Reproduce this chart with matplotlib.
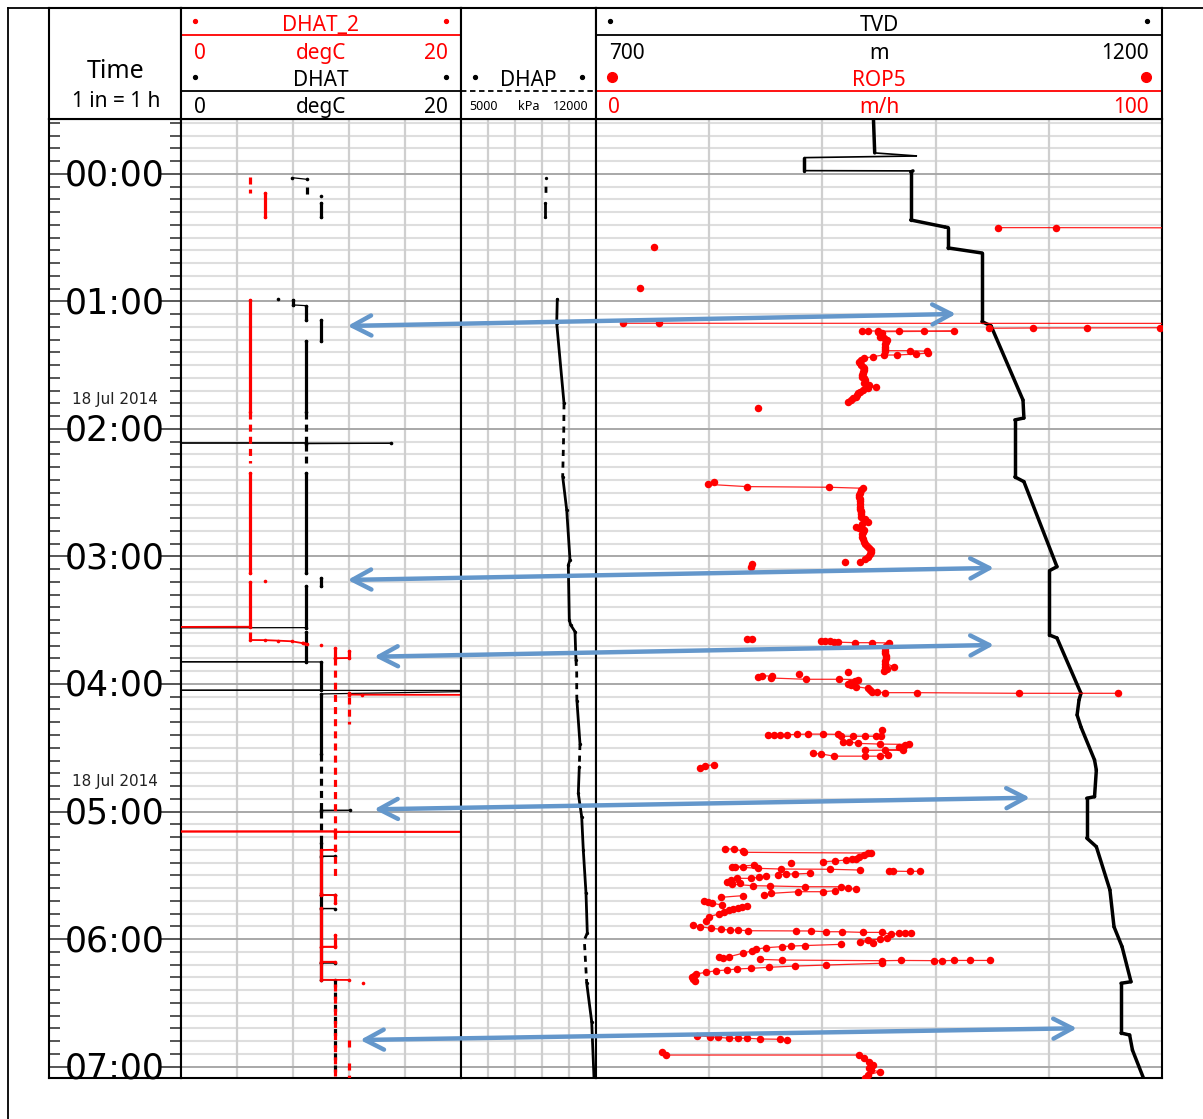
import numpy as np
import matplotlib
matplotlib.use("Agg")
import matplotlib.pyplot as plt
from matplotlib.lines import Line2D
from matplotlib.patches import ConnectionPatch
from matplotlib.collections import LineCollection
from matplotlib.transforms import blended_transform_factory, offset_copy

nan = np.nan

# ---------------- time index (hours after 18 Jul 2014 00:00) ----------------
HOUR_TICKS = [0, 1, 2, 3, 4, 5, 6, 7]
HOUR_LABELS = ["00:00", "01:00", "02:00", "03:00", "04:00", "05:00", "06:00", "07:00"]
DATE_TEXT = "18 Jul 2014"
DATE_TIMES = [1.75, 4.75]
TIME_TOP, TIME_BOTTOM = -0.431, 7.09

# ---------------- curve scales ----------------
DHAT_SCALE = (0, 20)
DHAP_SCALE = (5000, 12000)
TVD_SCALE = (700, 1200)
ROP_SCALE = (0, 100)

# ---------------- DHAT (black, degC) ----------------
dhat_t = [0.029, 0.042, nan, 0.170, nan, 0.227, 0.337, nan, 0.980, nan,
          0.988, 1.027, 1.033, 1.145, nan, 1.145, 1.307, nan, 1.307, 1.864, nan,
          2.108, 2.110, 2.112, 2.115, nan, 2.347, 3.132, nan, 3.166, 3.231, nan,
          3.231, 3.558, 3.560, nan,
          3.590, 3.825, 3.826, 3.827, 4.047, 4.049, 4.051, 4.078, 4.550, nan,
          4.990, 4.991, 4.993, nan,
          5.250, 5.350, 5.351, 5.353, 5.655, 5.656, 5.657, 5.760, 5.761, 5.762,
          6.186, 6.187, 6.188, 6.320, 6.322]
dhat_v = [7.93, 9.00, nan, 10.0, nan, 10.0, 10.0, nan, 6.95, nan,
          7.98, 7.98, 8.96, 8.96, nan, 9.98, 9.98, nan, 8.96, 8.96, nan,
          8.96, -2.0, 15.0, 8.96, nan, 8.96, 8.96, nan, 10.0, 10.0, nan,
          8.96, 8.96, -2.0, nan,
          8.96, 8.96, -2.0, 10.0, 10.0, -2.0, 25.0, 10.0, 10.0, nan,
          10.0, 12.1, 10.0, nan,
          10.0, 10.0, 11.0, 10.0, 10.0, 11.0, 10.0, 10.0, 11.0, 10.0,
          10.0, 11.0, 10.0, 10.0, 11.0]
dhat_dash_t0 = [0.100, 1.864, 2.115, 4.550, 4.993, 6.322]
dhat_dash_t1 = [0.165, 2.108, 2.268, 4.990, 5.250, 7.090]
dhat_dash_v = [9.00, 8.96, 8.96, 10.0, 10.0, 11.0]

# ---------------- DHAT_2 (red, degC) ----------------
dhat2_t = [0.147, 0.337, nan, 0.988, 1.864, nan, 2.347, 3.132, nan, 3.190, nan,
           3.198, 3.551, 3.553, nan,
           3.655, 3.656, 3.660, 3.665, 3.680, 3.690, nan, 3.694, nan,
           3.720, 3.800, nan, 3.745, 3.796, 3.798, nan,
           4.070, 4.083, 4.084, 4.086, nan,
           5.155, 5.157, 5.159, 5.161, nan,
           5.300, 5.302, 5.640, 5.655, 5.656, 5.720, nan,
           5.760, 6.060, 6.061, 6.062, 6.178, 6.179, 6.180, 6.320, 6.321, nan,
           5.970, 6.055, nan, 6.347]
dhat2_v = [6.00, 6.00, nan, 4.93, 4.93, nan, 4.93, 4.93, nan, 6.00, nan,
           4.93, 4.93, -2.0, nan,
           4.93, 6.00, 6.90, 7.90, 8.70, 9.00, nan, 10.0, nan,
           11.0, 11.0, nan, 12.0, 12.0, 11.0, nan,
           12.0, 12.0, 12.9, 25.0, nan,
           11.0, -2.0, 25.0, 11.0, nan,
           11.0, 10.0, 10.0, 10.0, 11.0, 11.0, nan,
           10.0, 10.0, 11.0, 10.0, 10.0, 11.0, 10.0, 10.0, 12.0, nan,
           11.0, 11.0, nan, 13.0]
dhat2_dash_t0 = [0.021, 1.864, 3.590, 3.800, 5.161, 4.100, 6.350, 6.790, 6.970]
dhat2_dash_t1 = [0.147, 2.268, 3.655, 5.155, 5.510, 4.310, 7.090, 6.850, 7.090]
dhat2_dash_v = [4.93, 4.93, 4.93, 11.0, 11.0, 12.0, 11.0, 12.0, 12.0]

# ---------------- DHAP (black, kPa) ----------------
dhap_t = [0.029, nan, 0.227, 0.337, nan, 0.983, 1.171, 1.798, nan,
          2.374, 2.635, 3.027, 3.067, 3.498, 3.537, 3.590, 3.810, nan,
          4.130, 4.470, nan,
          4.650, 4.858, 5.041, 5.302, 5.639, 5.953, nan,
          6.345, 6.649, 7.090]
dhap_v = [9407, nan, 9371, 9371, nan, 9993, 9962, 10341, nan,
          10273, 10481, 10652, 10564, 10616, 10688, 10911, 10960, nan,
          11010, 11170, nan,
          11134, 11082, 11258, 11341, 11481, 11549, nan,
          11518, 11777, 11896]
dhap_dash_t = [0.100, 0.165, nan, 1.798, 2.000, 2.374, nan,
               3.810, 3.916, 4.071, 4.130, nan, 4.470, 4.650, nan,
               5.953, 6.008, 6.345]
dhap_dash_v = [9407, 9407, nan, 10341, 10330, 10273, nan,
               10960, 11000, 11000, 11010, nan, 11170, 11134, nan,
               11549, 11393, 11518]

# ---------------- TVD (black, m) ----------------
tvd_t = [-0.431, -0.165, -0.141, -0.128, -0.026, -0.024, -0.016, 0.361, 0.416, 0.420,
         0.580, 0.620, 1.158, 1.192, 1.773, 1.914, 1.929, 2.376, 2.413, 3.080,
         3.111, 3.616, 3.639, 4.073, 4.125, 4.243, 4.337, 4.596, 4.675, 4.884,
         4.896, 5.208, 5.276, 5.616, 5.904, 6.060, 6.335, 6.347, 6.737, 6.753,
         6.871, 7.090]
tvd_v = [945.1, 946.2, 983.6, 884.0, 884.0, 980.0, 978.0, 978.0, 1008.3, 1011.0,
         1011.0, 1041.0, 1041.0, 1049.0, 1077.2, 1078.0, 1070.0, 1070.0, 1078.0, 1107.2,
         1100.6, 1100.6, 1107.2, 1128.4, 1126.7, 1125.0, 1128.4, 1140.4, 1142.0, 1140.4,
         1133.5, 1133.5, 1142.0, 1154.0, 1157.6, 1164.7, 1172.6, 1163.8, 1163.8, 1171.4,
         1173.9, 1183.6]

# ---------------- ROP5 (red, m/h) ----------------
rop_t = [0.421, 0.421, 0.423, nan, 0.575, nan, 0.897, nan,
         1.171, 1.171, 1.172, nan, 1.205, 1.206, 1.207, 1.208, 1.210, nan,
         1.231, 1.231, 1.232, 1.232, 1.233, 1.233,
         1.237, 1.250, 1.263, 1.276, 1.290, 1.302, 1.318, 1.334, 1.354, 1.370,
         1.386, 1.386, 1.390, 1.405, 1.412, 1.420, 1.420, 1.432, 1.446, 1.460,
         1.472, 1.485, 1.500, 1.512, 1.525, 1.537, 1.550, 1.563, 1.577, 1.590,
         1.603, 1.616, 1.629, 1.642, 1.655, 1.668, 1.681, 1.694, 1.707, 1.720,
         1.734, 1.747, 1.760, 1.773, 1.786, nan,
         1.833, nan,
         2.418, 2.434, 2.452, 2.457, 2.465, 2.480, 2.500, 2.515, 2.531, 2.548,
         2.565, 2.585, 2.609, 2.625, 2.640, 2.655, 2.670, 2.688, 2.705, 2.727,
         2.745, 2.766, 2.780, 2.792, 2.808, 2.822, 2.845, 2.865, 2.884, 2.900,
         2.918, 2.936, 2.950, 2.962, 2.980, 3.002, 3.020, 3.041, nan,
         3.041, nan, 3.060, 3.080, nan, 3.650, 3.650, nan,
         3.660, 3.662, 3.665, 3.668, 3.672, 3.676, 3.676, 3.678, 3.700, 3.720,
         3.740, 3.760, 3.780, 3.800, 3.820, 3.840, 3.864, 3.870, 3.885, 3.896, nan,
         3.908, nan, 3.920, nan,
         3.947, 3.937, 3.937, 3.953, 3.963, 3.963, 3.965, 3.975, 3.990, 4.000,
         4.008, 4.021, 4.034, 4.048, 4.060, 4.065, 4.068, 4.068, 4.073, 4.073, nan,
         4.400, 4.400, 4.398, 4.398, 4.395, 4.393, 4.393, 4.395, 4.410, 4.410,
         4.410, 4.410, 4.410, nan,
         4.361, nan,
         4.453, 4.453, 4.466, 4.471, 4.474, 4.479, 4.492, nan,
         4.518, 4.518, 4.520, nan,
         4.545, 4.548, 4.566, 4.566, 4.566, 4.558, nan,
         4.633, 4.641, 4.661, nan,
         5.294, 5.294, 5.310, 5.320, 5.326, 5.328, 5.341, 5.355, nan,
         5.370, 5.375, 5.380, 5.388, 5.394, nan,
         5.407, nan,
         5.420, 5.433, 5.438, 5.438, 5.446, 5.451, 5.453, 5.459, nan,
         5.464, 5.468, 5.470, 5.468, nan,
         5.485, 5.490, 5.490, 5.498, nan,
         5.506, 5.516, 5.524, 5.524, 5.537, 5.551, 5.558, nan,
         5.570, 5.582, 5.584, 5.590, 5.590, 5.602, 5.610, nan,
         5.621, 5.629, 5.629, 5.642, 5.655, nan,
         5.660, 5.673, nan,
         5.700, 5.708, 5.720, 5.733, nan,
         5.741, 5.748, 5.755, 5.767, 5.775, 5.790, 5.804, 5.825, 5.856, nan,
         5.890, 5.903, 5.916, 5.924, 5.930, 5.930, 5.935, 5.937, 5.937, 5.943,
         5.943, 5.948, 5.948, 5.964, 5.956, 5.951, 5.956, nan,
         5.995, 6.002, 6.008, 6.020, 6.029, nan,
         6.042, 6.052, 6.055, 6.060, 6.068, 6.080, 6.092, 6.112, 6.139, 6.144, 6.151, nan,
         6.160, 6.165, 6.170, 6.168, 6.170, 6.170, 6.168, 6.168, 6.168, nan,
         6.190, 6.204, 6.212, 6.222, 6.230, 6.235, 6.243, 6.249, 6.261, 6.275,
         6.290, 6.296, 6.310, 6.327, nan,
         6.758, 6.766, 6.770, 6.778, 6.778, 6.778, 6.784, 6.786, 6.792, nan,
         6.884, 6.910, 6.910, 6.936, 6.962, 6.988, 7.010, 7.027, 7.041, 7.067, 7.093]
rop_v = [71.0, 81.2, 110.0, nan, 10.3, nan, 7.8, nan,
         4.7, 11.2, 110.0, nan, 110.0, 99.6, 86.8, 77.2, 69.5, nan,
         47.0, 48.1, 49.9, 53.5, 57.9, 63.2,
         49.9, 50.5, 50.3, 50.1, 50.8, 51.4, 51.2, 51.0, 51.1, 51.0,
         51.0, 55.4, 58.4, 58.6, 56.6, 53.2, 50.8, 49.0, 47.3, 46.8,
         46.5, 46.6, 46.9, 47.1, 47.3, 47.3, 47.2, 47.1, 47.0, 47.0,
         47.3, 47.6, 47.5, 47.3, 48.3, 49.4, 48.0, 47.2, 46.6, 46.3,
         46.1, 45.9, 45.4, 45.0, 44.5, nan,
         28.7, nan,
         20.9, 19.7, 26.6, 41.1, 47.2, 46.8, 46.6, 46.5, 46.5, 46.6,
         46.6, 46.7, 46.6, 46.7, 46.8, 46.9, 46.9, 46.8, 47.5, 48.1,
         47.0, 45.9, 46.5, 47.3, 47.2, 47.0, 47.0, 47.1, 47.3, 47.6,
         47.9, 48.3, 48.5, 48.5, 48.4, 48.0, 47.5, 46.7, nan,
         44.0, nan, 27.6, 27.3, nan, 26.6, 27.6, nan,
         39.7, 40.5, 41.3, 42.0, 42.8, 45.8, 48.8, 51.8, 51.3, 51.1,
         51.1, 51.1, 51.2, 51.2, 51.1, 51.1, 52.7, 51.0, 51.4, 50.8, nan,
         44.5, nan, 35.9, nan,
         28.7, 29.3, 31.1, 30.9, 37.1, 42.9, 46.3, 45.8, 44.9, 44.5,
         45.0, 45.9, 48.0, 48.4, 48.7, 49.7, 51.1, 56.7, 74.7, 92.3, nan,
         30.4, 31.4, 32.5, 33.8, 35.6, 37.5, 40.1, 42.8, 43.2, 45.4,
         47.6, 49.4, 50.4, nan,
         50.6, nan,
         43.7, 44.7, 46.3, 50.1, 55.3, 54.6, 53.5, nan,
         51.1, 54.2, 47.6, nan,
         38.3, 39.7, 42.1, 47.6, 50.1, 51.6, nan,
         20.9, 19.3, 18.3, nan,
         22.8, 24.4, 25.9, 26.2, 48.6, 48.0, 47.3, 46.5, nan,
         46.0, 45.2, 44.2, 42.3, 40.1, nan,
         34.4, nan,
         28.0, 24.6, 24.1, 26.0, 28.7, 32.6, 41.3, 46.6, nan,
         51.8, 52.5, 55.5, 57.3, nan,
         37.8, 35.2, 33.5, 32.2, nan,
         30.0, 28.8, 27.3, 24.9, 23.8, 23.1, 25.5, nan,
         24.0, 27.8, 30.7, 36.9, 43.2, 44.5, 45.9, nan,
         42.3, 40.1, 35.7, 30.9, 29.7, nan,
         25.9, 22.1, nan,
         19.0, 19.7, 20.5, 22.3, nan,
         26.6, 25.8, 25.0, 24.2, 23.5, 22.6, 21.7, 20.0, 19.5, nan,
         17.2, 18.3, 20.4, 22.1, 23.7, 25.1, 26.9, 35.4, 38.0, 40.7,
         43.4, 47.2, 50.6, 52.1, 53.5, 54.6, 55.7, nan,
         51.4, 50.1, 48.0, 46.6, 49.0, nan,
         43.2, 36.9, 34.5, 32.8, 30.0, 28.3, 27.6, 25.9, 23.5, 21.7, 22.4, nan,
         29.0, 32.8, 50.6, 53.9, 59.8, 61.1, 63.2, 66.0, 69.6, nan,
         50.6, 40.6, 35.2, 30.5, 27.4, 24.9, 23.1, 21.2, 19.4, 17.6,
         17.3, 17.0, 17.2, 17.5, nan,
         17.9, 20.2, 21.6, 23.5, 25.1, 26.6, 29.0, 32.5, 33.8, nan,
         11.7, 12.4, 46.5, 47.3, 48.3, 49.0, 48.2, 48.6, 50.1, 48.0, 47.6]

# ---------------- correlation arrows: DHAT end (degC, h) <-> TVD end (m, h) ----------------
arrow_dhat_v = [11.9, 11.9, 13.8, 13.8, 12.8]
arrow_dhat_t = [1.192, 3.184, 3.786, 4.983, 6.792]
arrow_tvd_v = [1018.0, 1051.6, 1051.6, 1083.4, 1124.9]
arrow_tvd_t = [1.098, 3.090, 3.694, 4.892, 6.700]

assert len(rop_t) == len(rop_v) and len(dhat_t) == len(dhat_v) and len(dhat2_t) == len(dhat2_v)

# ---------------- layout (pixels) ----------------
W, H = 1203, 1119
COLS = [49, 181, 461, 596, 1162]
HEAD_TOP, HEAD_BOT, PLOT_BOT = 8, 119, 1078
RED = "#ff0000"
ARROW_BLUE = "#6497cb"
HEAD_FONT = ["Noto Sans", "DejaVu Sans"]

plt.rcParams["font.family"] = HEAD_FONT

fig = plt.figure(figsize=(W / 100, H / 100), dpi=100)


def px_rect(x0, x1, y0, y1):
    return [x0 / W, 1 - y1 / H, (x1 - x0) / W, (y1 - y0) / H]


minor_times = np.round(np.arange(-4, 71) / 10.0, 2)
minor_times = [m for m in minor_times if abs(m - round(m)) > 1e-6]


def style_track(ax, lo, hi):
    ax.set_xlim(lo, hi)
    ax.set_ylim(TIME_BOTTOM, TIME_TOP)
    ax.set_xticks([])
    ax.set_yticks([])
    for m in minor_times:
        ax.axhline(m, color="#dedede", lw=1.5, zorder=0)
    for h in HOUR_TICKS:
        ax.axhline(h, color="#a8a8a8", lw=1.4, zorder=0.5)
    for x in np.linspace(lo, hi, 6)[1:-1]:
        ax.axvline(x, color="#cfcfcf", lw=1.6, zorder=0.2)
    for s in ax.spines.values():
        s.set_linewidth(1.5)


def draw_curve(ax, t, v, color, lw_run, lw_jump, jump_dt, jump_dv, dots=0.0):
    t = np.asarray(t, float)
    v = np.asarray(v, float)
    runs, jumps = [], []
    for i in range(len(t) - 1):
        if np.isnan(t[i]) or np.isnan(t[i + 1]):
            continue
        seg = [(v[i], t[i]), (v[i + 1], t[i + 1])]
        if (t[i + 1] - t[i]) < jump_dt and abs(v[i + 1] - v[i]) > jump_dv:
            jumps.append(seg)
        else:
            runs.append(seg)
    ax.add_collection(LineCollection(runs, colors=color, linewidths=lw_run,
                                     capstyle="round", joinstyle="round", zorder=3))
    ax.add_collection(LineCollection(jumps, colors=color, linewidths=lw_jump, zorder=3))
    if dots:
        ax.plot(v, t, "o", color=color, ms=dots, mec="none", zorder=3)


def draw_dashed_runs(ax, t0, t1, v, color, lw):
    segs = [[(vv, a), (vv, b)] for a, b, vv in zip(t0, t1, v)]
    ax.add_collection(LineCollection(segs, colors=color, linewidths=lw,
                                     linestyles=[(0, (2.2, 1.6))], zorder=3))


# ---------------- time column ----------------
ax_time = fig.add_axes(px_rect(COLS[0], COLS[1], HEAD_BOT, PLOT_BOT))
ax_time.set_ylim(TIME_BOTTOM, TIME_TOP)
ax_time.set_xticks([])
ax_time.set_yticks(HOUR_TICKS)
ax_time.set_yticks(minor_times, minor=True)
ax_time.tick_params(axis="y", which="major", direction="in", length=16, width=1.4,
                    color="#555555", left=True, right=True, labelleft=False)
ax_time.tick_params(axis="y", which="minor", direction="in", length=8, width=1.4,
                    color="#555555", left=True, right=True)
for s in ax_time.spines.values():
    s.set_linewidth(1.5)
tr_time = offset_copy(blended_transform_factory(ax_time.transAxes, ax_time.transData),
                      fig=fig, x=0, y=-2, units="dots")
for h, lab in zip(HOUR_TICKS, HOUR_LABELS):
    ax_time.text(0.5, h, lab, transform=tr_time, ha="center", va="center",
                 fontsize=25, family="DejaVu Sans", color="black")
for d in DATE_TIMES:
    ax_time.text(0.5, d, DATE_TEXT, transform=tr_time, ha="center", va="center",
                 fontsize=11, family="DejaVu Sans", color="#222222")

# ---------------- DHAT track ----------------
ax_dhat = fig.add_axes(px_rect(COLS[1], COLS[2], HEAD_BOT, PLOT_BOT))
style_track(ax_dhat, *DHAT_SCALE)
draw_dashed_runs(ax_dhat, dhat_dash_t0, dhat_dash_t1, dhat_dash_v, "black", 2.3)
draw_curve(ax_dhat, dhat_t, dhat_v, "black", 2.3, 0.9, 0.03, 0.5, dots=2.6)
draw_dashed_runs(ax_dhat, dhat2_dash_t0, dhat2_dash_t1, dhat2_dash_v, RED, 2.3)
draw_curve(ax_dhat, dhat2_t, dhat2_v, RED, 2.3, 1.3, 0.03, 0.5, dots=2.6)

# ---------------- DHAP track ----------------
ax_dhap = fig.add_axes(px_rect(COLS[2], COLS[3], HEAD_BOT, PLOT_BOT))
style_track(ax_dhap, *DHAP_SCALE)
draw_curve(ax_dhap, dhap_t, dhap_v, "black", 2.0, 2.0, 0.0, 1e9, dots=2.4)
ax_dhap.plot(dhap_dash_v, dhap_dash_t, color="black", lw=2.0, ls=(0, (2.2, 2.0)), zorder=3)

# ---------------- TVD / ROP track ----------------
ax_tvd = fig.add_axes(px_rect(COLS[3], COLS[4], HEAD_BOT, PLOT_BOT))
style_track(ax_tvd, *TVD_SCALE)
draw_curve(ax_tvd, tvd_t, tvd_v, "black", 2.5, 1.2, 0.03, 20.0)

ax_rop = ax_tvd.twiny()
ax_rop.set_xlim(*ROP_SCALE)
ax_rop.set_ylim(TIME_BOTTOM, TIME_TOP)
ax_rop.set_xticks([])
ax_rop.set_yticks([])
for s in ax_rop.spines.values():
    s.set_visible(False)
ax_rop.plot(rop_v, rop_t, "-", color=RED, lw=0.9, alpha=0.85, zorder=3)
ax_rop.plot(rop_v, rop_t, "o", color=RED, ms=5.4, mec="none", zorder=4)

# ---------------- headers ----------------
def header_axes(x0, x1):
    ax = fig.add_axes(px_rect(x0, x1, HEAD_TOP, HEAD_BOT))
    ax.set_xlim(0, 1)
    ax.set_ylim(0, 1)
    ax.set_xticks([])
    ax.set_yticks([])
    for s in ax.spines.values():
        s.set_linewidth(1.5)
    return ax


Y_R1, Y_L1, Y_R2, Y_R3, Y_L2, Y_R4 = 0.840, 0.757, 0.590, 0.351, 0.255, 0.101
Y_D1, Y_D3 = 0.883, 0.378


def htext(ax, x, y, s, color="black", ha="center", size=15):
    ax.text(x, y, s, color=color, ha=ha, va="center", fontsize=size)


hx = header_axes(COLS[0], COLS[1])
htext(hx, 0.507, 0.425, "Time", size=18)
htext(hx, 0.507, 0.160, "1 in = 1 h", size=15)

hd = header_axes(COLS[1], COLS[2])
hd.plot([0.05, 0.946], [Y_D1, Y_D1], "o", color=RED, ms=2.8, ls="none")
htext(hd, 0.5, Y_R1, "DHAT_2", RED)
hd.plot([0, 1], [Y_L1, Y_L1], color=RED, lw=1.3)
htext(hd, 0.048, Y_R2, "0", RED, "left")
htext(hd, 0.5, Y_R2, "degC", RED)
htext(hd, 0.953, Y_R2, "20", RED, "right")
hd.plot([0.05, 0.946], [Y_D3, Y_D3], "o", color="black", ms=2.8, ls="none")
htext(hd, 0.5, Y_R3, "DHAT")
hd.plot([0, 1], [Y_L2, Y_L2], color="black", lw=1.3)
htext(hd, 0.048, Y_R4, "0", ha="left")
htext(hd, 0.5, Y_R4, "degC")
htext(hd, 0.953, Y_R4, "20", ha="right")

hp = header_axes(COLS[2], COLS[3])
hp.plot([0.1, 0.894], [Y_D3, Y_D3], "o", color="black", ms=2.8, ls="none")
htext(hp, 0.5, Y_R3, "DHAP")
hp.plot([0, 1], [Y_L2, Y_L2], color="black", lw=1.3, ls=(0, (3, 2)))
htext(hp, 0.058, Y_R4 + 0.01, "5000", ha="left", size=9)
htext(hp, 0.5, Y_R4 + 0.01, "kPa", size=9)
htext(hp, 0.942, Y_R4 + 0.01, "12000", ha="right", size=9)

ht = header_axes(COLS[3], COLS[4])
ht.plot([0.025, 0.974], [Y_D1, Y_D1], "o", color="black", ms=2.8, ls="none")
htext(ht, 0.5, Y_R1, "TVD")
ht.plot([0, 1], [Y_L1, Y_L1], color="black", lw=1.3)
htext(ht, 0.0225, Y_R2, "700", ha="left")
htext(ht, 0.5, Y_R2, "m")
htext(ht, 0.977, Y_R2, "1200", ha="right")
ht.plot([0.028, 0.972], [Y_D3, Y_D3], "o", color=RED, ms=7, ls="none")
htext(ht, 0.5, Y_R3, "ROP5", RED)
ht.plot([0, 1], [Y_L2, Y_L2], color=RED, lw=1.3)
htext(ht, 0.0215, Y_R4, "0", RED, "left")
htext(ht, 0.5, Y_R4, "m/h", RED)
htext(ht, 0.977, Y_R4, "100", RED, "right")

# ---------------- correlation arrows ----------------
for dv, dt, tv, tt in zip(arrow_dhat_v, arrow_dhat_t, arrow_tvd_v, arrow_tvd_t):
    cp = ConnectionPatch(xyA=(dv, dt), coordsA=ax_dhat.transData,
                         xyB=(tv, tt), coordsB=ax_tvd.transData,
                         arrowstyle="<->,head_length=0.68,head_width=0.36",
                         mutation_scale=20, color=ARROW_BLUE, lw=3.2,
                         shrinkA=0, shrinkB=0, zorder=10)
    fig.add_artist(cp)

# ---------------- page frame ----------------
fig.add_artist(Line2D([8 / W, 8 / W], [0, 1 - 8 / H], transform=fig.transFigure,
                      color="black", lw=1.3))
fig.add_artist(Line2D([8 / W, 1], [1 - 8 / H, 1 - 8 / H], transform=fig.transFigure,
                      color="black", lw=1.3))

fig.savefig("out.png", dpi=100, facecolor="white")
